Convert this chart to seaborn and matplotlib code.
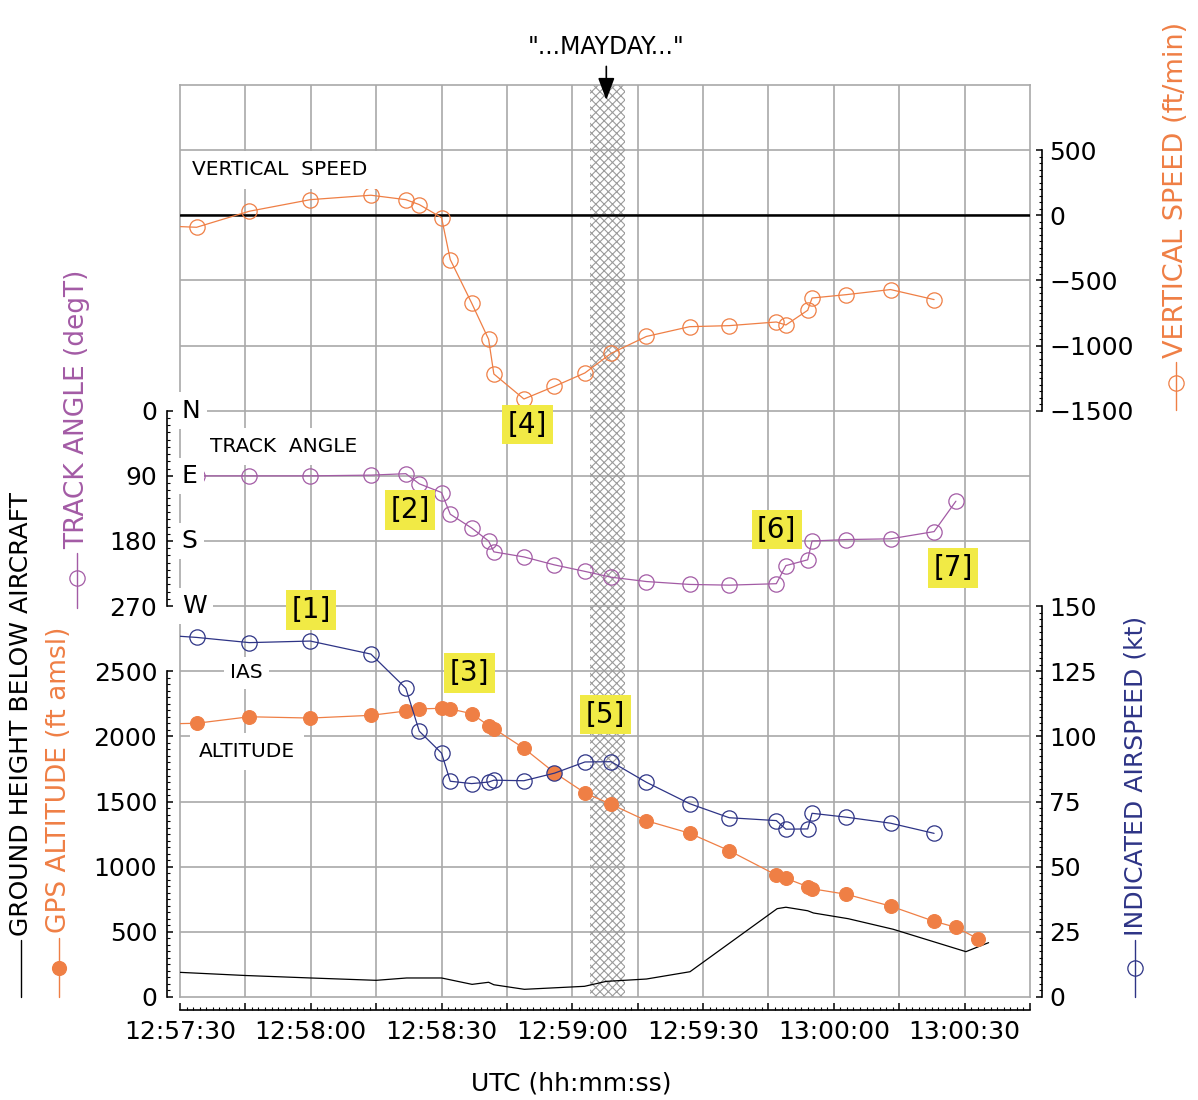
import matplotlib
matplotlib.use("Agg")
import numpy as np
import matplotlib.pyplot as plt
import seaborn as sns
from matplotlib.lines import Line2D
from matplotlib.ticker import FuncFormatter, MultipleLocator

sns.set_theme(style="white")
plt.rcParams["font.family"] = ["DejaVu Sans"]
plt.rcParams["hatch.linewidth"] = 0.8
for k in ["text.color", "axes.labelcolor", "xtick.color", "ytick.color"]:
    plt.rcParams[k] = "black"

# time in seconds after 12:57:30 UTC
t_fix = [3.8, 15.9, 29.9, 43.8, 51.8, 54.9, 60.0, 62.0, 66.9, 70.8, 72.0, 78.9,
         85.9, 92.9, 98.9, 107.0, 116.9, 126.0, 136.8, 139.0, 144.0, 145.0,
         152.9, 163.0, 173.0]
t_vs = [-5.0] + t_fix
vs_fpm = [-80, -92, 31, 120, 154, 120, 82, -18, -340, -673, -952, -1218, -1410,
          -1313, -1210, -1060, -930, -855, -847, -819, -842, -729, -635, -609,
          -570, -647]
t_trk = [-5.0] + t_fix + [178.0]
trk_deg = [90, 90, 90, 90, 89, 87, 101, 113, 143, 162, 180, 195, 202, 213, 222,
           230, 236, 240, 241, 239, 214, 206, 180, 178, 177, 167, 125]
t_ias = [-5.0] + t_fix
ias_kt = [139, 138, 136, 136.6, 131.6, 118.5, 102, 93.6, 82.8, 81.9, 82.5, 83.2,
          83.0, 85.9, 90.2, 90.3, 82.4, 74.2, 68.8, 67.7, 64.4, 64.5, 70.5, 69.0,
          66.7, 62.8]
t_alt = [-5.0] + t_fix + [178.0, 183.0]
alt_ft = [2095, 2101, 2151, 2141, 2162, 2195, 2211, 2216, 2211, 2175, 2083, 2060,
          1909, 1722, 1566, 1479, 1353, 1257, 1123, 936, 911, 847, 831, 788, 698,
          581, 535, 448]
t_gnd = [-0.5, 15, 30, 45, 52, 60, 67, 70.8, 72, 79, 92.8, 97.8, 107, 117, 137,
         139, 144, 145.3, 153.3, 163.6, 180.3, 185.5]
gnd_ft = [190, 165, 146, 128, 146, 146, 97, 113, 94, 59, 82, 120, 138, 194, 678,
          689, 662, 645, 601, 520, 348, 417]

mayday_span = (94.0, 102.0)
notes = {"[1]": (30.1, 2970), "[2]": (52.8, 3738), "[3]": (66.4, 2487),
         "[4]": (79.7, 4391), "[5]": (97.6, 2165), "[6]": (136.9, 3585),
         "[7]": (177.3, 3293)}

ORANGE = "#ef7f45"
PURPLE = "#a35ba5"
NAVY = "#2e3486"
GRID = "#a9a9a9"
YELLOW = "#f1ea45"
FS = 18

W, H = 1198, 1100
fig = plt.figure(figsize=(W / 100, H / 100), dpi=100)
rect = [180 / W, 1 - 997 / H, 850 / W, 912 / H]

# base panel: grid, frame, hatched mayday period
ax = fig.add_axes(rect)
ax.set_xlim(0, 195)
ax.set_ylim(0, 7000)
ax.set_xticks([])
ax.set_yticks([])
for s in ax.spines.values():
    s.set_color(GRID)
    s.set_linewidth(1.2)
for yy in range(500, 7000, 500):
    ax.axhline(yy, color=GRID, lw=1.2, zorder=1)
for xx in range(15, 195, 15):
    ax.axvline(xx, color=GRID, lw=1.2, zorder=1)
ax.axvspan(*mayday_span, facecolor="none", edgecolor="#9b9b9b", hatch="xxxx",
           lw=0, zorder=2)


def overlay(ylim):
    a = fig.add_axes(rect)
    a.set_xlim(0, 195)
    a.set_ylim(*ylim)
    a.patch.set_visible(False)
    for s in a.spines.values():
        s.set_visible(False)
    a.xaxis.set_visible(False)
    return a


def scale(a, side, lo, hi, major, minor, off):
    sp = a.spines[side]
    sp.set_visible(True)
    sp.set_color("black")
    sp.set_linewidth(1.2)
    sp.set_position(("outward", off))
    sp.set_bounds(lo, hi)
    a.set_yticks(np.arange(lo, hi + 0.1, major))
    a.set_yticks(np.arange(lo, hi + 0.1, minor), minor=True)
    if side == "right":
        a.tick_params(axis="y", which="both", left=False, right=True,
                      labelleft=False, labelright=True, direction="in")
        a.tick_params(axis="y", which="major", pad=5)
    else:
        a.tick_params(axis="y", which="both", left=True, direction="in")
        a.tick_params(axis="y", which="major", pad=7)
    a.tick_params(axis="y", which="major", length=4.5, width=1.1, labelsize=FS,
                  colors="black")
    a.tick_params(axis="y", which="minor", length=2.4, width=0.8)


line_kw = dict(sort=False, estimator=None, linewidth=0.9)
open_mk = dict(marker="o", markersize=11, markerfacecolor="none",
               markeredgewidth=0.9)

# altitude / ground height
ax_alt = overlay((0, 7000))
scale(ax_alt, "left", 0, 2500, 500, 50, 9.4)
ax_alt.xaxis.set_visible(True)
bs = ax_alt.spines["bottom"]
bs.set_visible(True)
bs.set_color("black")
bs.set_linewidth(1.2)
bs.set_position(("outward", 9.4))
ax_alt.xaxis.set_major_locator(MultipleLocator(15))
ax_alt.xaxis.set_minor_locator(MultipleLocator(1.5))


def hms(v, pos):
    s = int(round(v))
    if s % 30:
        return ""
    s += 12 * 3600 + 57 * 60 + 30
    return f"{s // 3600:02d}:{s % 3600 // 60:02d}:{s % 60:02d}"


ax_alt.xaxis.set_major_formatter(FuncFormatter(hms))
ax_alt.tick_params(axis="x", which="both", bottom=True, direction="in",
                   colors="black")
ax_alt.tick_params(axis="x", which="major", length=5, width=1.1, pad=7,
                   labelsize=FS)
ax_alt.tick_params(axis="x", which="minor", length=2, width=0.8)
sns.lineplot(x=t_gnd, y=gnd_ft, ax=ax_alt, color="black", **line_kw)
sns.lineplot(x=t_alt, y=alt_ft, ax=ax_alt, color=ORANGE, marker="o",
             markersize=10, markeredgecolor=ORANGE, markerfacecolor=ORANGE,
             **line_kw)

# track angle
ax_trk = overlay((810, -450))
scale(ax_trk, "left", 0, 270, 90, 10, 9.4)
sns.lineplot(x=t_trk, y=trk_deg, ax=ax_trk, color=PURPLE,
             markeredgecolor=PURPLE, **open_mk, **line_kw)

# vertical speed
ax_vs = overlay((-6000, 1000))
scale(ax_vs, "right", -1500, 500, 500, 50, 8.6)
ax_vs.axhline(0, color="black", lw=1.8)
sns.lineplot(x=t_vs, y=vs_fpm, ax=ax_vs, color=ORANGE,
             markeredgecolor=ORANGE, **open_mk, **line_kw)

# indicated airspeed
ax_ias = overlay((0, 350))
scale(ax_ias, "right", 0, 150, 25, 2.5, 8.6)
sns.lineplot(x=t_ias, y=ias_kt, ax=ax_ias, color=NAVY,
             markeredgecolor=NAVY, **open_mk, **line_kw)

# in-plot labels
box_w = dict(boxstyle="square,pad=0.45", fc="white", ec="none")
tx = dict(transform=ax.transData, zorder=20, va="center", color="black")
ax_ias.text(2.8, 6348, "VERTICAL  SPEED", fontsize=14.5, ha="left", bbox=box_w, **tx)
ax_ias.text(6.9, 4222, "TRACK  ANGLE", fontsize=14.5, ha="left", bbox=box_w, **tx)
ax_ias.text(15.2, 2487, "IAS", fontsize=14.5, ha="center",
            bbox=dict(boxstyle="square,pad=0.3", fc="white", ec="none"), **tx)
ax_ias.text(15.3, 1881, "ALTITUDE", fontsize=14.5, ha="center", bbox=box_w, **tx)
for deg, lab in zip([0, 90, 180, 270], ["N", "E", "S", "W"]):
    ax_ias.text(0.4, deg, lab, transform=ax_trk.transData, fontsize=FS,
                ha="left", va="center", zorder=20, color="black",
                bbox=dict(boxstyle="square,pad=0.25", fc="white", ec="none"))
for lab, (xx, yy) in notes.items():
    ax_ias.text(xx, yy, lab, transform=ax.transData, fontsize=20, ha="center",
                va="center", zorder=21, color="black",
                bbox=dict(boxstyle="square,pad=0.2", fc=YELLOW, ec="none"))

ax_ias.annotate('"...MAYDAY..."', xy=(97.8, 6885), xycoords=ax.transData,
                xytext=(97.8, 7292), textcoords=ax.transData, ha="center",
                va="center", fontsize=17, annotation_clip=False, color="black",
                arrowprops=dict(arrowstyle="-|>,head_length=0.8,head_width=0.3",
                                color="black", lw=1.2, shrinkA=3, shrinkB=0))

# axis titles with line/marker keys
fig.text(571 / W, 1 - 1083 / H, "UTC (hh:mm:ss)", ha="center", va="center",
         fontsize=FS, color="black")


def key(x, y0, y1, color, ym=None, filled=False, label="", ytxt=0, fs=FS):
    fig.add_artist(Line2D([x / W, x / W], [1 - y0 / H, 1 - y1 / H],
                          transform=fig.transFigure, color=color, lw=1))
    if ym is not None:
        fig.add_artist(Line2D([x / W], [1 - ym / H], transform=fig.transFigure,
                              marker="o", ms=10 if filled else 11, ls="none",
                              mec=color, mfc=color if filled else "none",
                              mew=0.9))
    fig.text(x / W, 1 - ytxt / H, label, rotation=90, ha="center", va="bottom",
             fontsize=fs, color=color)


key(21, 940, 997, "black", label="GROUND HEIGHT BELOW AIRCRAFT", ytxt=936)
key(59, 938, 997, ORANGE, ym=968, filled=True, label="GPS ALTITUDE (ft amsl)",
    ytxt=933, fs=19)
key(77, 553, 608, PURPLE, ym=578, label="TRACK ANGLE (degT)", ytxt=549, fs=19)
key(1176, 362, 410, ORANGE, ym=383, label="VERTICAL SPEED (ft/min)", ytxt=358,
    fs=19.5)
key(1135, 940, 997, NAVY, ym=968, label="INDICATED AIRSPEED (kt)", ytxt=936)

fig.savefig("out.png", dpi=100)
